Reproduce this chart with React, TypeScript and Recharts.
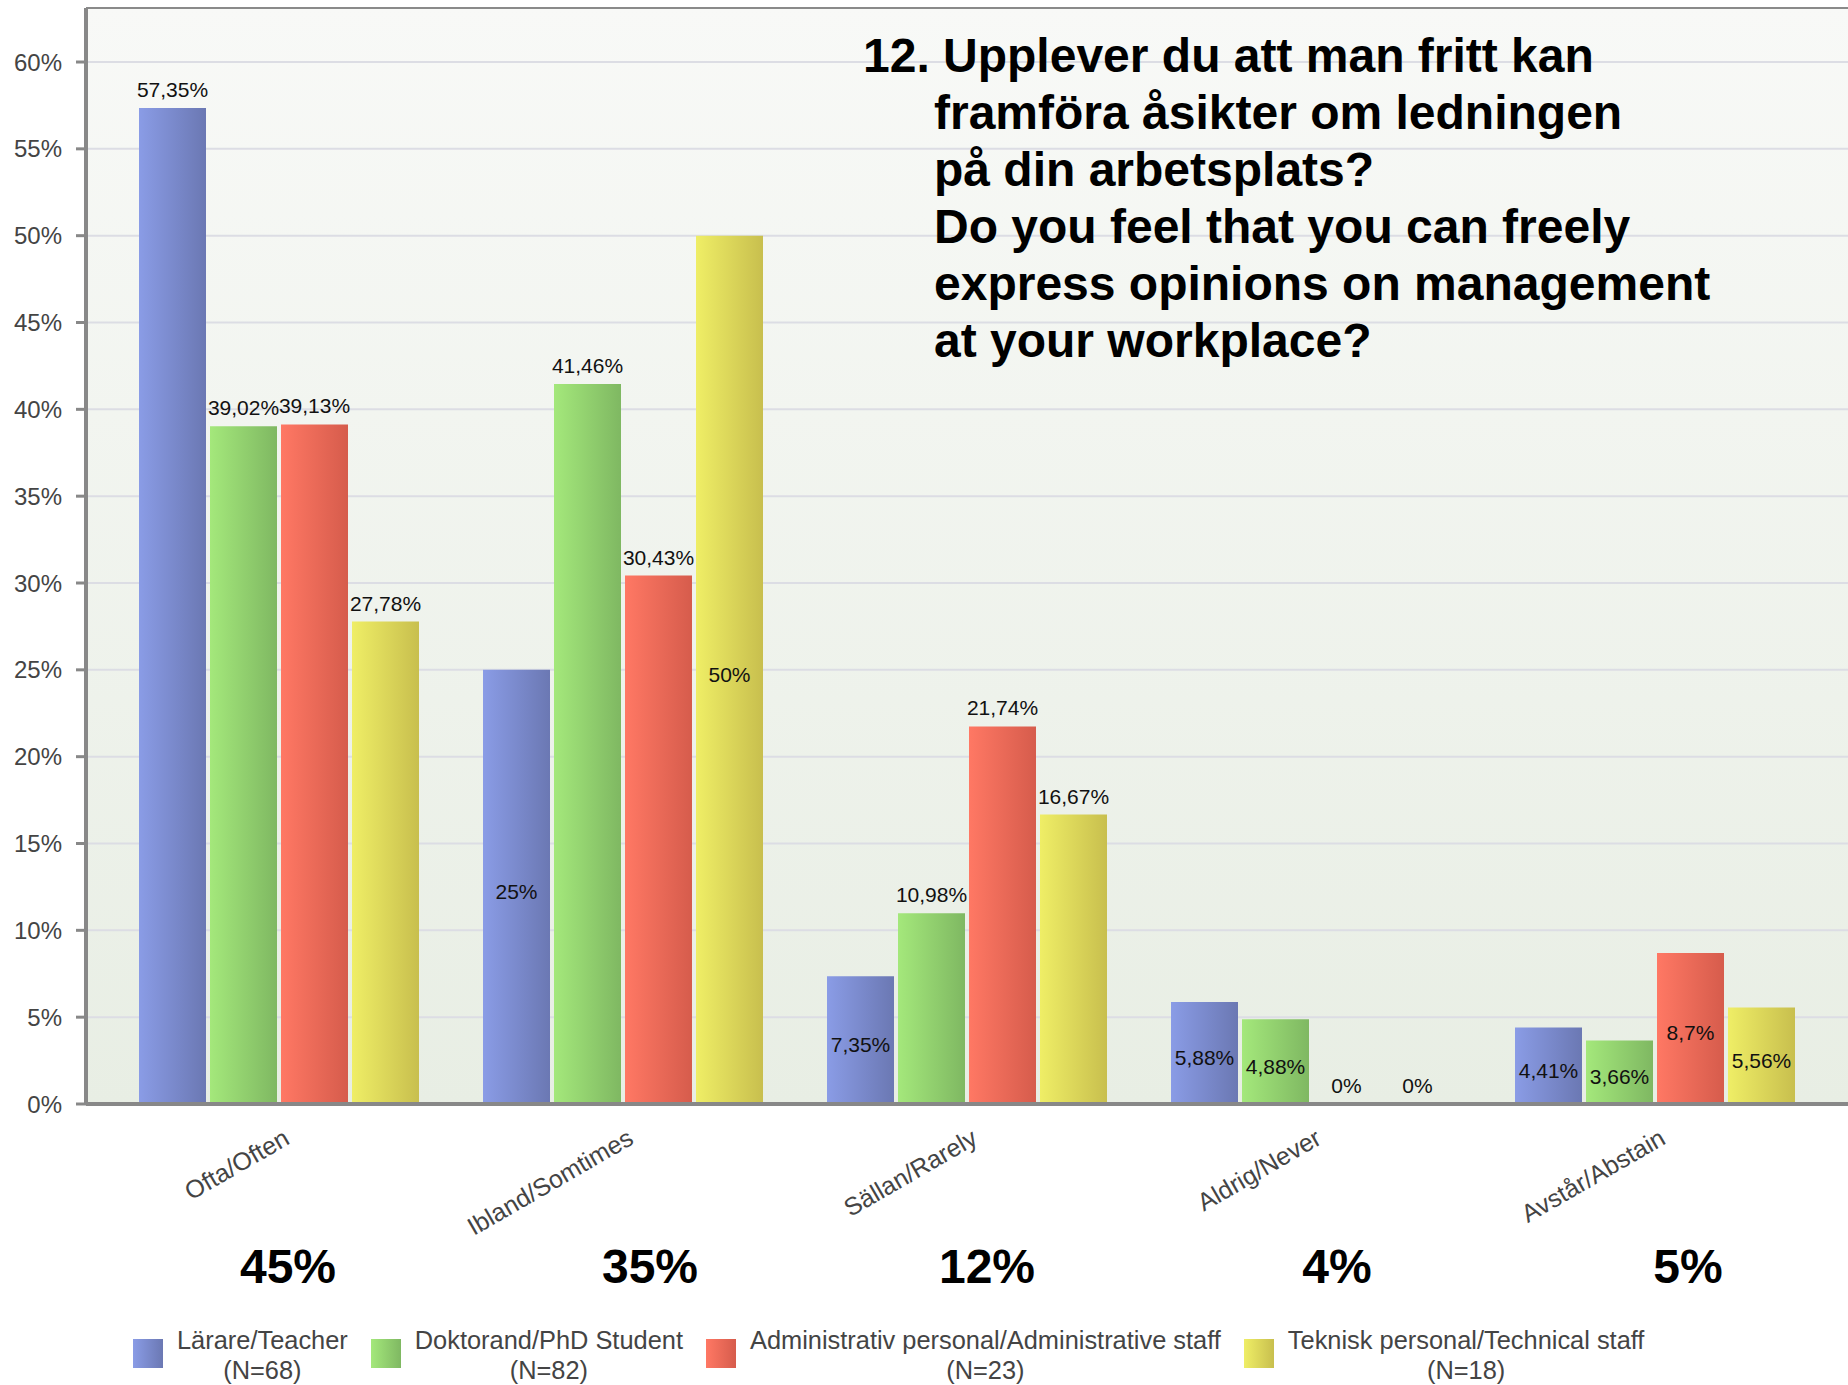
import React from 'react';
import { BarChart, Bar, XAxis, YAxis, CartesianGrid, LabelList, Legend, ReferenceLine } from 'recharts';

const categories = ['Ofta/Often', 'Ibland/Somtimes', 'Sällan/Rarely', 'Aldrig/Never', 'Avstår/Abstain'];
const teacher = [57.35, 25, 7.35, 5.88, 4.41];
const phd = [39.02, 41.46, 10.98, 4.88, 3.66];
const admin = [39.13, 30.43, 21.74, 0, 8.7];
const tech = [27.78, 50, 16.67, 0, 5.56];
const totals = ['45%', '35%', '12%', '4%', '5%'];
const yTicks = [0, 5, 10, 15, 20, 25, 30, 35, 40, 45, 50, 55, 60];
const Y_MAX = 63.11;

const seriesNames = [
  'Lärare/Teacher',
  'Doktorand/PhD Student',
  'Administrativ personal/Administrative staff',
  'Teknisk personal/Technical staff',
];
const seriesN = ['(N=68)', '(N=82)', '(N=23)', '(N=18)'];

const titleLines = [
  '12. Upplever du att man fritt kan',
  'framföra åsikter om ledningen',
  'på din arbetsplats?',
  'Do you feel that you can freely',
  'express opinions on management',
  'at your workplace?',
];

// horizontal nudges of the summary annotations relative to category centres (style only)
const totalsDx = [9, 27, 20, 26, 33];

const FONT = '"Liberation Sans", Arial, Helvetica, sans-serif';

const series = [
  { key: 'teacher', c1: '#8a9ce6', c2: '#6b78b3' },
  { key: 'phd', c1: '#a4e87b', c2: '#7fb862' },
  { key: 'admin', c1: '#ff7864', c2: '#d65c4c' },
  { key: 'tech', c1: '#efee66', c2: '#c8bf4e' },
];

const data = categories.map((c, i) => ({
  category: c,
  teacher: teacher[i],
  phd: phd[i],
  admin: admin[i],
  tech: tech[i],
}));

const fmt = (v: number) => `${String(v).replace('.', ',')}%`;

const ValueLabel = (props: any) => {
  const x = Number(props.x);
  const y = Number(props.y);
  const w = Number(props.width);
  const h = Number(props.height);
  const v = Number(props.value);
  const inside = v > 0 && (v < 10 || Number.isInteger(v));
  let ty: number;
  if (inside) ty = y + h / 2 + 12;
  else if (v === 0) ty = y + h - 11;
  else ty = y - 11;
  return (
    <text x={x + w / 2} y={ty} textAnchor="middle" fontSize={21} fill="#111" fontFamily={FONT}>
      {fmt(v)}
    </text>
  );
};

const XTick = (props: any) => {
  const { x, y, payload } = props;
  const idx = categories.indexOf(payload.value);
  const lx = x + 12;
  const ly = y + 39;
  return (
    <g>
      <text
        x={lx}
        y={ly}
        transform={`rotate(-30, ${lx}, ${ly})`}
        textAnchor="end"
        fontSize={25}
        fill="#444"
        fontFamily={FONT}
      >
        {payload.value}
      </text>
      <text x={x + totalsDx[idx]} y={y + 179} textAnchor="middle" fontSize={48} fontWeight="bold" fill="#000" fontFamily={FONT}>
        {totals[idx]}
      </text>
    </g>
  );
};

const LegendContent = () => (
  <div
    style={{
      display: 'flex',
      paddingLeft: 133,
      fontFamily: FONT,
      fontSize: 25.4,
      color: '#444',
      lineHeight: '30px',
    }}
  >
    {series.map((s, i) => (
      <div key={s.key} style={{ display: 'flex', alignItems: 'flex-start', marginRight: 23 }}>
        <div
          style={{
            width: 30,
            height: 29,
            marginTop: 14,
            marginRight: 14,
            background: `linear-gradient(to right, ${s.c1}, ${s.c2})`,
          }}
        />
        <div style={{ textAlign: 'center', whiteSpace: 'nowrap' }}>
          <div>{seriesNames[i]}</div>
          <div>{seriesN[i]}</div>
        </div>
      </div>
    ))}
  </div>
);

export default function App() {
  return (
    <div style={{ position: 'absolute', left: 0, top: 0, width: 1848, height: 1385, background: '#fff' }}>
      <BarChart
        width={1848}
        height={1385}
        data={data}
        margin={{ top: 8, right: 0, bottom: 0, left: 0 }}
        barSize={67}
        barGap={4}
        style={{ fontFamily: FONT }}
      >
        <defs>
          <linearGradient id="bgGrad" x1="0" y1="0" x2="0" y2="1">
            <stop offset="0%" stopColor="#f8f9f7" />
            <stop offset="100%" stopColor="#e8eee4" />
          </linearGradient>
          {series.map((s) => (
            <linearGradient key={s.key} id={`g_${s.key}`} x1="0" y1="0" x2="1" y2="0">
              <stop offset="0%" stopColor={s.c1} />
              <stop offset="100%" stopColor={s.c2} />
            </linearGradient>
          ))}
        </defs>
        <CartesianGrid vertical={false} stroke="#dcdde4" strokeWidth={2} fill="url(#bgGrad)" fillOpacity={1} />
        <XAxis
          dataKey="category"
          height={281}
          padding={{ left: 21, right: 21 }}
          tickLine={false}
          tickSize={0}
          tickMargin={0}
          axisLine={{ stroke: '#888', strokeWidth: 4 }}
          tick={<XTick />}
          interval={0}
        />
        <YAxis
          width={86}
          domain={[0, Y_MAX]}
          ticks={yTicks}
          tickFormatter={(v: number) => `${v}%`}
          tick={{ fontSize: 24, fill: '#444' }}
          tickSize={10}
          tickMargin={14}
          tickLine={{ stroke: '#888', strokeWidth: 3 }}
          axisLine={{ stroke: '#888', strokeWidth: 4 }}
        />
        <ReferenceLine y={Y_MAX} stroke="#8a8a8a" strokeWidth={2} />
        {series.map((s, i) => (
          <Bar
            key={s.key}
            dataKey={s.key}
            name={seriesNames[i]}
            fill={`url(#g_${s.key})`}
            minPointSize={0.01}
            isAnimationActive={false}
          >
            <LabelList dataKey={s.key} content={<ValueLabel />} />
          </Bar>
        ))}
        <Legend
          verticalAlign="middle"
          align="center"
          layout="horizontal"
          wrapperStyle={{ top: 1325, left: 0, width: 1848 }}
          content={() => <LegendContent />}
        />
        <g>
          {titleLines.map((t, i) => (
            <text
              key={i}
              x={i === 0 ? 863 : 934}
              y={72 + i * 57}
              fontSize={48}
              fontWeight="bold"
              fill="#000"
              fontFamily={FONT}
            >
              {t}
            </text>
          ))}
        </g>
      </BarChart>
    </div>
  );
}
